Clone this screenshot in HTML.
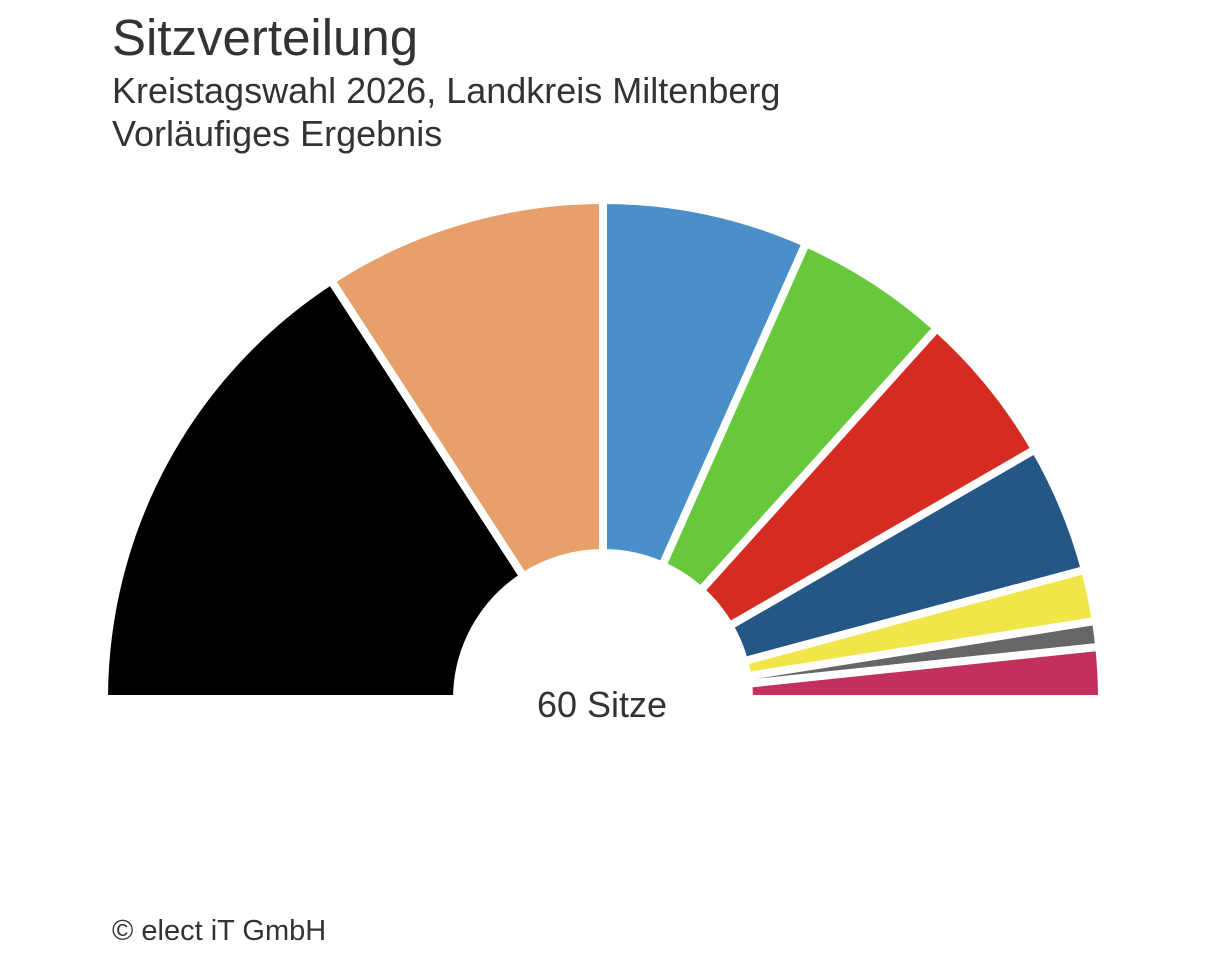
<!DOCTYPE html>
<html><head><meta charset="utf-8"><style>
html,body{margin:0;padding:0;background:#fff;width:1206px;height:973px;overflow:hidden}
svg{display:block}
text{font-family:"Liberation Sans",Arial,sans-serif;fill:#333}
</style></head><body>
<svg id="chart" width="1206" height="973">
<text x="112" y="55" font-size="51">Sitzverteilung</text>
<text x="112" y="103" font-size="36">Kreistagswahl 2026, Landkreis Miltenberg</text>
<text x="112" y="146" font-size="36">Vorläufiges Ergebnis</text>
<g id="arcs"></g>
<text x="602" y="717" font-size="36" text-anchor="middle">60 Sitze</text>
<text x="112" y="940" font-size="29">© elect iT GmbH</text>
</svg>
<script>
const parties = ["party-1","party-2","party-3","party-4","party-5","party-6","party-7","party-8","party-9"];
const seats = [19,11,8,6,6,5,2,1,2];
const colors = ["#000000","#e8a06b","#4a8fc9","#67c83b","#d42c22","#245686","#f2e54a","#666666","#c2305c"];
const cx=603, cy=699, R=499, r=146;
const total = seats.reduce((a,b)=>a+b,0);
const g=document.getElementById('arcs');
function pt(rad,a){return [cx+rad*Math.cos(a), cy-rad*Math.sin(a)];}
let acc=0;
seats.forEach((s,i)=>{
  const a0=Math.PI*(1-acc/total), a1=Math.PI*(1-(acc+s)/total);
  acc+=s;
  const p1=pt(R,a0),p2=pt(R,a1),p3=pt(r,a1),p4=pt(r,a0);
  const large=(a0-a1)>Math.PI?1:0;
  const d=`M${p1[0]},${p1[1]} A${R},${R} 0 ${large} 1 ${p2[0]},${p2[1]} L${p3[0]},${p3[1]} A${r},${r} 0 ${large} 0 ${p4[0]},${p4[1]} Z`;
  const p=document.createElementNS('http://www.w3.org/2000/svg','path');
  p.setAttribute('d',d);
  p.setAttribute('fill',colors[i]);
  p.setAttribute('stroke','#fff');
  p.setAttribute('stroke-width','8');
  
  
  g.appendChild(p);
});
</script>
</body></html>
